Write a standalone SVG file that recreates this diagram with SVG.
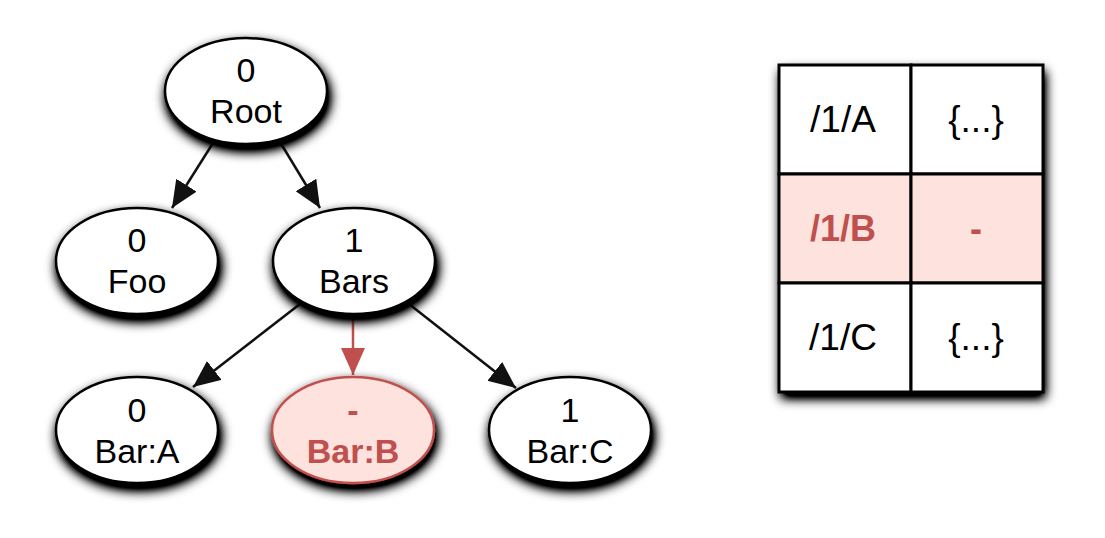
<svg xmlns="http://www.w3.org/2000/svg" width="1105" height="538" viewBox="0 0 1105 538">
  <defs>
    <filter id="shadow" x="-30%" y="-30%" width="160%" height="170%">
      <feGaussianBlur in="SourceAlpha" stdDeviation="6"/>
      <feOffset dx="2" dy="6" result="b"/>
      <feComponentTransfer in="b" result="s">
        <feFuncA type="linear" slope="1.6"/>
      </feComponentTransfer>
      <feMerge>
        <feMergeNode in="s"/>
        <feMergeNode in="SourceGraphic"/>
      </feMerge>
    </filter>
    <marker id="arrowBlack" markerUnits="userSpaceOnUse" markerWidth="30" markerHeight="26" refX="27" refY="12" orient="auto">
      <path d="M0,0 L27,12 L0,24 Z" fill="#111"/>
    </marker>
    <marker id="arrowRed" markerUnits="userSpaceOnUse" markerWidth="30" markerHeight="26" refX="27" refY="12" orient="auto">
      <path d="M0,0 L27,12 L0,24 Z" fill="#c0504d"/>
    </marker>
  </defs>
  <style>
    .node { fill: #ffffff; stroke: #000; stroke-width: 2.5; filter: url(#shadow); }
    .removed { fill: #fde2de; stroke: #c0504d; stroke-width: 2.5; filter: url(#shadow); }
    .label { font-family: "Liberation Sans", Arial, sans-serif; font-size: 34px; fill: #000; text-anchor: middle; }
    .rlabel { font-family: "Liberation Sans", Arial, sans-serif; font-size: 34px; font-weight: bold; fill: #c0504d; text-anchor: middle; }
    .edge { stroke: #111; stroke-width: 2.5; fill: none; marker-end: url(#arrowBlack); }
    .redge { stroke: #c0504d; stroke-width: 2.5; fill: none; marker-end: url(#arrowRed); }
    .cell { fill: #ffffff; stroke: #000; stroke-width: 3; }
    .rcell { fill: #fde2de; stroke: #000; stroke-width: 3; }
    .tlabel { font-family: "Liberation Sans", Arial, sans-serif; font-size: 37px; fill: #000; text-anchor: middle; }
    .trlabel { font-family: "Liberation Sans", Arial, sans-serif; font-size: 36px; font-weight: bold; fill: #c0504d; text-anchor: middle; }
  </style>

  <g id="connectors">
    <line class="edge" x1="213" y1="143" x2="172" y2="208"/>
    <line class="edge" x1="280" y1="142" x2="320" y2="208"/>
    <line class="edge" x1="300" y1="304" x2="193" y2="387"/>
    <line class="redge" x1="353" y1="315" x2="353" y2="375"/>
    <line class="edge" x1="409" y1="304" x2="516" y2="388"/>
  </g>

  <g id="node-root">
    <ellipse class="node" cx="246" cy="91" rx="81" ry="53"/>
    <text class="label" x="246" y="82">0</text>
    <text class="label" x="246" y="123">Root</text>
  </g>
  <g id="node-foo">
    <ellipse class="node" cx="137" cy="261" rx="81" ry="53"/>
    <text class="label" x="137" y="252">0</text>
    <text class="label" x="137" y="293">Foo</text>
  </g>
  <g id="node-bars">
    <ellipse class="node" cx="354" cy="261" rx="81" ry="53"/>
    <text class="label" x="354" y="252">1</text>
    <text class="label" x="354" y="293">Bars</text>
  </g>
  <g id="node-bar-a">
    <ellipse class="node" cx="137" cy="430" rx="81" ry="53"/>
    <text class="label" x="137" y="422">0</text>
    <text class="label" x="137" y="463">Bar:A</text>
  </g>
  <g id="node-bar-b">
    <ellipse class="removed" cx="353" cy="430" rx="81" ry="53"/>
    <text class="rlabel" x="353" y="422">-</text>
    <text class="rlabel" x="353" y="463">Bar:B</text>
  </g>
  <g id="node-bar-c">
    <ellipse class="node" cx="570" cy="430" rx="81" ry="53"/>
    <text class="label" x="570" y="422">1</text>
    <text class="label" x="570" y="463">Bar:C</text>
  </g>

  <g id="table">
    <rect x="779" y="65" width="264" height="327" fill="#fff" filter="url(#shadow)"/>
    <rect class="cell" x="779" y="65" width="132" height="109"/>
    <rect class="cell" x="911" y="65" width="132" height="109"/>
    <rect class="rcell" x="779" y="174" width="132" height="109"/>
    <rect class="rcell" x="911" y="174" width="132" height="109"/>
    <rect class="cell" x="779" y="283" width="132" height="109"/>
    <rect class="cell" x="911" y="283" width="132" height="109"/>
    <text class="tlabel" x="843" y="132">/1/A</text>
    <text class="tlabel" x="976" y="132">{...}</text>
    <text class="trlabel" x="843" y="241">/1/B</text>
    <text class="trlabel" x="976" y="241">-</text>
    <text class="tlabel" x="843" y="350">/1/C</text>
    <text class="tlabel" x="976" y="350">{...}</text>
  </g>
</svg>
